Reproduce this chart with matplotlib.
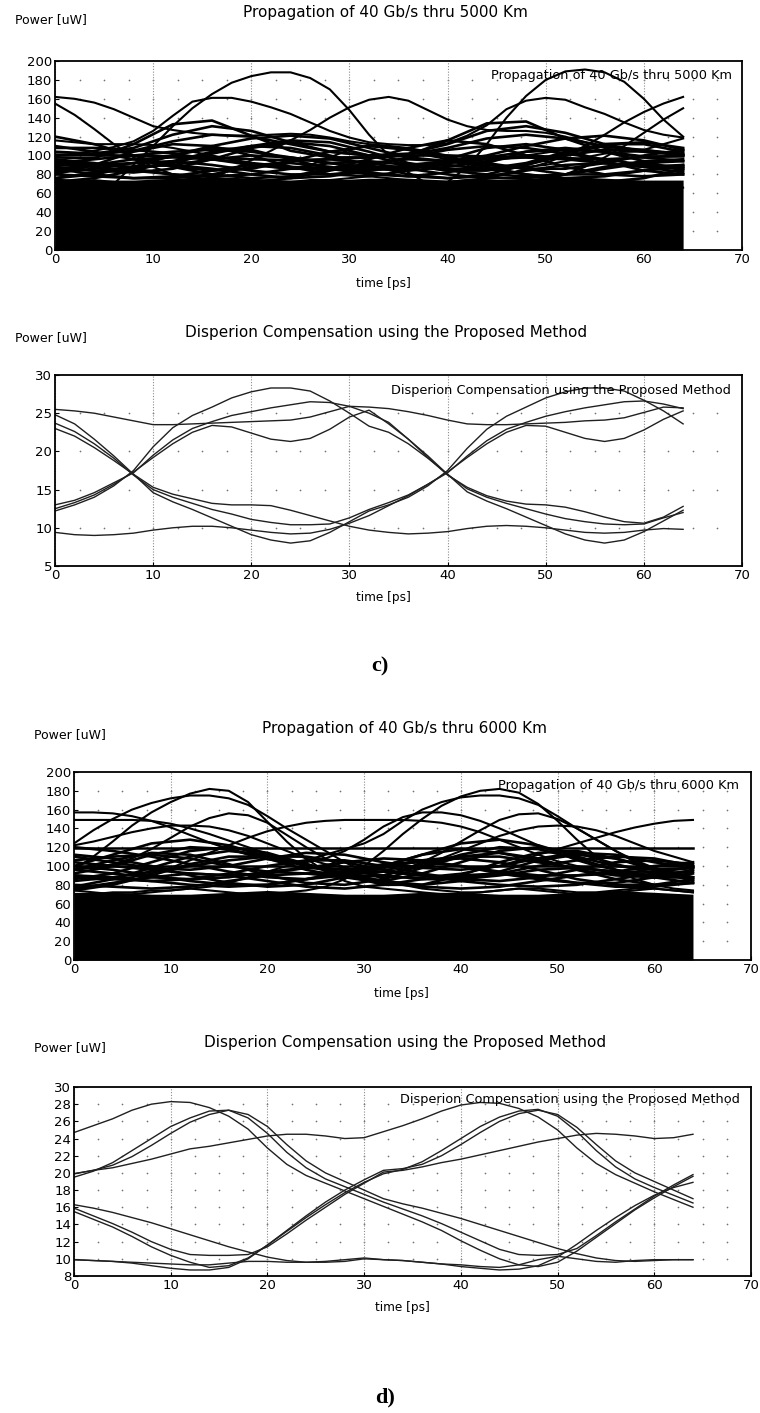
import numpy as np
import matplotlib.pyplot as plt

W, H = 760, 1413

# sampling instants of the read-off traces [ps]
t2 = np.arange(0, 65, 2)   # 33 points
t4 = np.arange(0, 65, 4)   # 17 points

# ---------------- c) top : 40 Gb/s after 5000 km  [uW] ----------------
# top of the solid black mass of overlapping traces
p1_band = [76, 74, 74, 76, 78, 76, 74, 74, 76, 76, 74, 74, 76, 78, 76, 74, 74]

# clearly visible upper traces (t2)
p1_big_a = [60, 58, 60, 70, 90, 110, 131, 150, 165, 177, 184, 188, 188, 182, 170, 148, 122,
            100, 82, 70, 64, 62, 64, 68, 72, 74, 72, 68, 64, 62, 62, 64, 66]
p1_big_b = [66, 64, 62, 62, 64, 66, 68, 70, 72, 70, 68, 66, 64, 62, 62, 64, 66,
            68, 70, 70, 72, 88, 112, 140, 163, 180, 189, 191, 188, 178, 160, 138, 120]
p1_peak33 = [64, 66, 68, 70, 70, 72, 72, 74, 76, 85, 95, 105, 116, 127, 140, 151, 159,
             162, 158, 148, 138, 131, 127, 126, 126, 124, 120, 114, 108, 104, 106, 112, 118]
p1_peak18 = [100, 102, 105, 109, 115, 126, 142, 157, 161, 161, 157, 151, 144, 135, 126, 119, 114,
             112, 111, 111, 113, 121, 132, 149, 158, 161, 159, 151, 144, 135, 127, 122, 119]
p1_long = [162, 160, 156, 149, 140, 131, 127, 124, 122, 121, 121, 122, 123, 122, 119, 115, 112,
           110, 108, 104, 100, 98, 97, 98, 100, 103, 106, 108, 109, 108, 106, 104, 102]
p1_fall0 = [155, 143, 128, 112, 98, 88, 80, 76, 74, 72, 70, 70, 72, 74, 74, 72, 70,
            70, 70, 72, 72, 74, 74, 72, 72, 74, 80, 88, 98, 110, 124, 138, 150]
p1_rise64 = [70, 72, 74, 72, 70, 70, 72, 74, 76, 74, 72, 70, 70, 72, 74, 76, 78,
             76, 74, 72, 72, 74, 76, 80, 86, 92, 100, 110, 122, 135, 146, 155, 162]
p1_flat112 = [116, 114, 112, 112, 112, 111, 108, 104, 100, 96, 92, 88, 86, 90, 98, 106, 111,
              110, 106, 100, 96, 92, 90, 88, 88, 90, 94, 98, 102, 104, 104, 102, 100]
p1_upper = [p1_big_a, p1_big_b, p1_peak33, p1_peak18, p1_long, p1_fall0, p1_rise64, p1_flat112]

# the tangle just above the black mass (t4)
p1_mass = [
    [98, 97, 112, 133, 137, 121, 105, 98, 98, 100, 116, 134, 136, 118, 104, 99, 99],
    [104, 102, 108, 122, 131, 126, 114, 104, 100, 102, 112, 126, 131, 124, 112, 104, 102],
    [100, 101, 105, 115, 122, 120, 112, 104, 100, 101, 108, 118, 122, 118, 110, 104, 101],
    [92, 90, 92, 100, 110, 118, 121, 118, 108, 98, 94, 100, 110, 118, 121, 116, 106],
    [101, 100, 100, 99, 98, 96, 95, 96, 98, 100, 100, 99, 98, 97, 96, 98, 100],
    [120, 112, 100, 88, 80, 76, 78, 86, 96, 108, 116, 112, 100, 88, 80, 78, 80],
    [80, 90, 104, 112, 110, 100, 88, 80, 78, 84, 96, 108, 112, 106, 94, 84, 80],
    [88, 84, 82, 86, 96, 108, 114, 110, 100, 90, 84, 84, 90, 102, 112, 112, 104],
    [96, 92, 86, 80, 74, 72, 76, 84, 92, 96, 94, 88, 80, 74, 72, 76, 86],
    [108, 108, 106, 102, 96, 90, 86, 86, 90, 98, 106, 110, 108, 102, 96, 90, 88],
    [84, 90, 96, 98, 96, 92, 88, 86, 86, 88, 92, 96, 98, 96, 92, 88, 86],
    [92, 96, 100, 104, 106, 104, 98, 92, 88, 88, 92, 98, 104, 106, 104, 98, 94],
    [76, 80, 88, 100, 108, 106, 96, 86, 80, 78, 82, 92, 104, 108, 104, 94, 84],
    [110, 104, 96, 88, 84, 86, 94, 104, 110, 106, 98, 90, 86, 86, 92, 100, 106],
    [86, 84, 86, 92, 102, 110, 116, 114, 104, 92, 86, 86, 92, 104, 112, 114, 108],
    [72, 76, 84, 94, 104, 110, 108, 100, 90, 80, 76, 80, 90, 100, 106, 106, 100],
    [80, 78, 76, 78, 84, 90, 92, 88, 82, 78, 76, 78, 84, 90, 92, 88, 82],
    [90, 88, 84, 80, 78, 80, 86, 92, 94, 90, 84, 80, 78, 80, 86, 92, 94],
    [76, 82, 88, 90, 86, 80, 76, 78, 84, 88, 90, 86, 80, 76, 78, 84, 88],
    [86, 80, 76, 76, 80, 88, 94, 96, 92, 86, 80, 76, 76, 80, 88, 94, 96],
    [82, 86, 92, 94, 90, 84, 80, 80, 84, 90, 94, 92, 86, 80, 80, 84, 90],
    [94, 90, 88, 90, 96, 100, 98, 92, 86, 84, 88, 94, 100, 98, 92, 88, 90],
]

# ---------------- c) bottom : compensated, 5000 km (t2) ----------------
p2_traces = [
    [25.5, 25.3, 25.0, 24.5, 24.0, 23.5, 23.5, 23.6, 23.7, 23.8, 23.9, 24.0, 24.1, 24.5, 25.2, 25.9, 25.8,
     25.6, 25.2, 24.7, 24.1, 23.6, 23.5, 23.5, 23.6, 23.7, 23.8, 24.0, 24.1, 24.4, 25.1, 25.8, 25.7],
    [12.5, 13.3, 14.3, 15.7, 17.3, 19.2, 21.0, 22.5, 23.4, 23.2, 22.4, 21.6, 21.3, 21.7, 22.9, 24.5, 25.4,
     23.6, 21.6, 19.4, 17.0, 14.7, 13.5, 12.5, 11.4, 10.3, 9.2, 8.4, 8.0, 8.4, 9.5, 10.9, 12.3],
    [12.2, 13.0, 14.0, 15.5, 17.5, 20.6, 23.1, 24.7, 25.8, 27.0, 27.8, 28.3, 28.3, 27.9, 26.6, 25.0, 23.3,
     22.5, 21.0, 19.1, 17.0, 15.1, 14.0, 13.2, 12.5, 11.8, 11.2, 10.8, 10.5, 10.4, 10.5, 11.3, 12.0],
    [13.0, 13.6, 14.6, 15.9, 17.2, 19.5, 21.5, 23.0, 23.9, 24.7, 25.2, 25.7, 26.1, 26.5, 26.4, 25.9, 25.0,
     23.8, 21.6, 19.2, 16.9, 15.3, 14.2, 13.5, 13.1, 13.0, 12.7, 12.1, 11.4, 10.8, 10.6, 11.4, 12.8],
    [23.0, 22.0, 20.5, 18.8, 17.0, 15.3, 14.4, 13.8, 13.2, 13.0, 13.0, 12.9, 12.3, 11.6, 10.9, 10.2, 9.7,
     9.4, 9.2, 9.3, 9.5, 9.9, 10.2, 10.3, 10.2, 10.0, 9.7, 9.4, 9.3, 9.4, 9.7, 9.9, 9.8],
    [23.7, 22.6, 21.0, 19.1, 16.9, 15.0, 14.0, 13.2, 12.4, 11.8, 11.1, 10.7, 10.4, 10.4, 10.5, 11.3, 12.4,
     13.3, 14.3, 15.7, 17.3, 19.2, 21.0, 22.5, 23.4, 23.3, 22.5, 21.7, 21.3, 21.7, 22.8, 24.2, 25.3],
    [24.8, 23.6, 21.6, 19.4, 17.0, 14.6, 13.4, 12.4, 11.3, 10.2, 9.1, 8.4, 8.0, 8.3, 9.4, 10.8, 12.2,
     13.0, 14.0, 15.5, 17.5, 20.4, 22.9, 24.6, 25.8, 27.0, 27.8, 28.3, 28.3, 27.9, 26.7, 25.3, 23.6],
    [9.4, 9.1, 9.0, 9.1, 9.3, 9.7, 10.0, 10.2, 10.2, 10.0, 9.7, 9.4, 9.2, 9.3, 9.8, 10.6, 11.6,
     12.9, 14.2, 15.7, 17.2, 19.4, 21.4, 22.9, 23.8, 24.6, 25.2, 25.7, 26.1, 26.5, 26.6, 26.2, 25.6],
]

# ---------------- d) top : 40 Gb/s after 6000 km  [uW] ----------------
p3_band = [72, 72, 70, 70, 72, 74, 72, 70, 70, 72, 72, 70, 70, 72, 74, 72, 70]

p3_pk182a = [96, 110, 126, 143, 157, 168, 177, 182, 180, 168, 147, 126, 108, 94, 84, 78, 76,
             74, 72, 70, 70, 72, 74, 76, 74, 72, 70, 70, 72, 74, 76, 74, 72]
p3_pk182b = [74, 72, 70, 70, 72, 74, 76, 74, 72, 70, 70, 72, 74, 78, 86, 100, 116,
             134, 150, 164, 174, 180, 182, 178, 166, 148, 128, 110, 96, 86, 80, 76, 74]
p3_pk175a = [124, 138, 150, 160, 167, 172, 175, 175, 172, 165, 153, 140, 128, 116, 104, 94, 86,
             80, 76, 74, 72, 72, 74, 76, 76, 74, 72, 72, 74, 76, 76, 74, 72]
p3_pk175b = [70, 70, 72, 72, 74, 74, 76, 78, 82, 88, 94, 100, 106, 112, 118, 124, 134,
             148, 160, 168, 173, 175, 175, 172, 165, 153, 140, 128, 116, 104, 96, 90, 86]
p3_pk155 = [96, 98, 102, 108, 118, 130, 142, 151, 156, 154, 146, 133, 120, 108, 98, 92, 90,
            96, 104, 114, 126, 138, 149, 155, 156, 150, 140, 128, 116, 106, 98, 92, 88]
p3_flat148 = [149, 149, 149, 149, 148, 145, 140, 134, 127, 120, 113, 106, 100, 95, 92, 90, 88,
              88, 88, 90, 92, 96, 100, 106, 112, 118, 124, 130, 136, 141, 145, 148, 149]
p3_rise148 = [88, 86, 86, 88, 92, 98, 106, 114, 122, 130, 137, 142, 146, 148, 149, 149, 149,
              149, 148, 146, 142, 136, 128, 120, 112, 105, 100, 96, 92, 90, 88, 88, 88]
p3_157 = [157, 157, 156, 153, 148, 141, 133, 125, 118, 112, 107, 104, 104, 108, 116, 128, 142,
          152, 157, 157, 154, 148, 140, 131, 122, 114, 106, 100, 96, 92, 90, 88, 88]
p3_142 = [122, 126, 131, 136, 140, 143, 143, 142, 138, 132, 124, 116, 108, 102, 98, 96, 96,
          98, 102, 108, 116, 124, 132, 138, 142, 143, 142, 138, 132, 124, 116, 110, 104]
p3_upper = [p3_pk182a, p3_pk182b, p3_pk175a, p3_pk175b, p3_pk155,
            p3_flat148, p3_rise148, p3_157, p3_142]

# the two straight levels (t4)
p3_flat118 = [119, 119, 119, 119, 119, 119, 119, 119, 119, 119, 119, 119, 119, 119, 119, 119, 119]
p3_flat100 = [100, 100, 100, 100, 100, 100, 100, 100, 100, 100, 100, 100, 100, 100, 100, 100, 100]

p3_mass = [
    [100, 112, 124, 128, 122, 110, 100, 96, 100, 112, 124, 128, 122, 110, 100, 96, 98],
    [92, 100, 112, 120, 118, 108, 96, 88, 90, 100, 112, 120, 118, 108, 96, 88, 88],
    [110, 104, 98, 96, 100, 108, 114, 112, 104, 98, 96, 100, 108, 114, 112, 104, 98],
    [86, 92, 104, 116, 120, 114, 102, 90, 84, 92, 104, 116, 120, 114, 102, 92, 86],
    [120, 116, 110, 102, 94, 88, 86, 90, 100, 112, 118, 114, 106, 96, 90, 88, 92],
    [78, 86, 98, 110, 116, 112, 102, 90, 80, 80, 90, 104, 114, 116, 108, 96, 84],
    [104, 100, 96, 92, 90, 92, 98, 104, 108, 106, 100, 94, 90, 90, 94, 100, 104],
    [96, 106, 114, 112, 102, 90, 82, 80, 86, 98, 110, 114, 108, 96, 86, 80, 82],
    [112, 108, 100, 90, 82, 78, 80, 88, 98, 106, 108, 104, 96, 86, 80, 80, 86],
    [84, 88, 94, 100, 106, 110, 110, 104, 96, 90, 88, 92, 100, 106, 110, 108, 100],
    [90, 86, 84, 86, 92, 100, 106, 106, 100, 92, 86, 84, 88, 96, 104, 106, 102],
    [74, 80, 90, 102, 110, 110, 102, 92, 84, 80, 84, 94, 106, 112, 108, 98, 88],
    [106, 110, 112, 108, 100, 94, 92, 94, 100, 106, 110, 110, 104, 98, 94, 94, 98],
    [100, 96, 90, 84, 80, 80, 86, 94, 102, 104, 100, 92, 86, 82, 82, 88, 96],
    [80, 78, 76, 78, 84, 90, 92, 88, 82, 78, 76, 78, 84, 90, 92, 88, 82],
    [90, 88, 84, 80, 78, 80, 86, 92, 94, 90, 84, 80, 78, 80, 86, 92, 94],
    [76, 82, 88, 92, 90, 84, 78, 76, 80, 86, 90, 92, 88, 82, 78, 78, 82],
    [96, 92, 88, 86, 88, 94, 98, 96, 90, 86, 86, 90, 96, 98, 94, 90, 88],
]

# ---------------- d) bottom : compensated, 6000 km (t2) ----------------
p4_traces = [
    [19.9, 20.3, 20.6, 21.1, 21.6, 22.2, 22.8, 23.1, 23.5, 23.9, 24.3, 24.5, 24.5, 24.3, 24.0, 24.1, 24.8,
     25.5, 26.3, 27.2, 27.9, 28.2, 28.1, 27.5, 26.5, 25.0, 22.9, 21.1, 19.8, 18.8, 17.8, 16.9, 16.0],
    [24.7, 25.5, 26.3, 27.3, 28.0, 28.3, 28.2, 27.6, 26.6, 25.1, 22.9, 21.0, 19.7, 18.8, 17.9, 17.0, 16.1,
     15.2, 14.3, 13.3, 12.1, 11.0, 10.0, 9.3, 9.1, 9.6, 10.9, 12.5, 14.1, 15.7, 17.1, 18.4, 19.6],
    [19.5, 20.2, 21.2, 22.6, 24.0, 25.4, 26.4, 27.2, 27.3, 26.4, 24.6, 22.4, 20.6, 19.3, 18.4, 17.5, 16.6,
     15.8, 15.0, 14.1, 13.1, 12.1, 11.1, 10.5, 10.4, 10.5, 11.2, 12.7, 14.3, 15.8, 17.3, 18.6, 19.8],
    [19.9, 20.3, 20.9, 21.9, 23.2, 24.6, 25.9, 26.8, 27.3, 26.8, 25.4, 23.3, 21.4, 20.0, 19.0, 18.0, 17.0,
     16.4, 15.9, 15.3, 14.7, 14.0, 13.3, 12.6, 11.9, 11.2, 10.6, 10.1, 9.8, 9.7, 9.8, 9.9, 9.9],
    [15.5, 14.6, 13.7, 12.6, 11.4, 10.4, 9.6, 9.0, 9.2, 10.1, 11.6, 13.2, 14.8, 16.3, 17.7, 18.9, 19.9,
     20.4, 21.3, 22.6, 24.0, 25.4, 26.5, 27.2, 27.4, 26.6, 24.8, 22.6, 20.7, 19.3, 18.3, 17.4, 16.5],
    [15.9, 15.0, 14.1, 13.1, 12.0, 11.1, 10.5, 10.4, 10.4, 10.5, 11.4, 12.9, 14.5, 16.0, 17.5, 18.8, 20.1,
     20.3, 20.7, 21.2, 21.6, 22.1, 22.6, 23.1, 23.6, 24.0, 24.4, 24.6, 24.5, 24.3, 24.0, 24.1, 24.5],
    [9.9, 9.8, 9.7, 9.5, 9.2, 8.9, 8.7, 8.7, 9.0, 10.0, 11.6, 13.3, 15.0, 16.6, 18.0, 19.2, 20.3,
     20.5, 21.0, 22.0, 23.3, 24.7, 26.0, 26.9, 27.3, 26.8, 25.3, 23.3, 21.4, 20.0, 19.0, 18.0, 17.0],
    [16.3, 15.9, 15.4, 14.8, 14.2, 13.5, 12.8, 12.1, 11.4, 10.8, 10.2, 9.8, 9.6, 9.6, 9.7, 10.0, 9.9,
     9.8, 9.6, 9.4, 9.1, 8.9, 8.7, 8.8, 9.2, 10.2, 11.7, 13.3, 14.8, 16.2, 17.4, 18.3, 18.9],
    [9.9, 9.8, 9.7, 9.6, 9.5, 9.4, 9.3, 9.3, 9.5, 9.7, 9.7, 9.6, 9.6, 9.7, 9.9, 10.1, 9.9,
     9.8, 9.6, 9.4, 9.3, 9.1, 9.0, 9.3, 9.9, 10.3, 10.0, 9.7, 9.6, 9.8, 9.9, 9.9, 9.9],
]

title_prop5 = 'Propagation of 40 Gb/s thru 5000 Km'
title_prop6 = 'Propagation of 40 Gb/s thru 6000 Km'
title_comp = 'Disperion Compensation using the Proposed Method'

fig = plt.figure(figsize=(W / 100, H / 100), dpi=100)


def panel(x0, x1, y0, y1, ylim, yticks):
    # axes placed in pixel coords of the page
    ax = fig.add_axes([x0 / W, 1 - y1 / H, (x1 - x0) / W, (y1 - y0) / H])
    ax.set_xlim(0, 70)
    ax.set_ylim(*ylim)
    ax.set_xticks(np.arange(0, 71, 10))
    ax.set_yticks(yticks)
    ax.tick_params(direction='in', length=3, width=0.8, labelsize=9.5, pad=2)
    ax.xaxis.grid(True, color='0.55', lw=0.8, ls=(0, (1, 1.5)))
    ax.set_axisbelow(True)
    gx, gy = np.meshgrid(np.arange(2.5, 70, 2.5), yticks[1:-1])
    ax.scatter(gx.ravel(), gy.ravel(), s=1.5, c='0.45', lw=0, zorder=0)
    for sp in ax.spines.values():
        sp.set_linewidth(1.3)
    return ax


def ftext(x, y, s, **kw):
    fig.text(x / W, 1 - y / H, s, va='center', **kw)


# c) top
ax1 = panel(55, 742, 61, 250, (0, 200), np.arange(0, 201, 20))
ax1.fill_between(t4, 0, p1_band, color='black', lw=0)
for tr in p1_mass:
    ax1.plot(t4, tr, color='black', lw=1.9)
for tr in p1_upper:
    ax1.plot(t2, tr, color='black', lw=1.5)
ax1.text(69, 185, title_prop5, ha='right', va='center', fontsize=9.3)
ftext(15, 20, 'Power [uW]', ha='left', fontsize=9)
ftext(385, 12, title_prop5, ha='center', fontsize=11)
ftext(383, 283, 'time [ps]', ha='center', fontsize=8.7)

# c) bottom
ax2 = panel(55, 742, 375, 566, (5, 30), np.arange(5, 31, 5))
for tr in p2_traces:
    ax2.plot(t2, tr, color='#202020', lw=1.0)
ax2.text(68.9, 28.0, title_comp, ha='right', va='center', fontsize=9.3)
ftext(15, 338, 'Power [uW]', ha='left', fontsize=9)
ftext(386, 333, title_comp, ha='center', fontsize=11)
ftext(383, 597, 'time [ps]', ha='center', fontsize=8.7)

ftext(380, 666, 'c)', ha='center', fontsize=16, fontweight='bold',
      family=['Liberation Serif', 'DejaVu Serif'])

# d) top
ax3 = panel(74, 751, 772, 960, (0, 200), np.arange(0, 201, 20))
ax3.fill_between(t4, 0, p3_band, color='black', lw=0)
for tr in p3_mass:
    ax3.plot(t4, tr, color='black', lw=1.9)
ax3.plot(t4, p3_flat118, color='black', lw=1.8)
ax3.plot(t4, p3_flat100, color='black', lw=1.8)
for tr in p3_upper:
    ax3.plot(t2, tr, color='black', lw=1.5)
ax3.text(68.8, 186, title_prop6, ha='right', va='center', fontsize=9.3)
ftext(34, 735, 'Power [uW]', ha='left', fontsize=9)
ftext(404, 728, title_prop6, ha='center', fontsize=11)
ftext(401, 993, 'time [ps]', ha='center', fontsize=8.7)

# d) bottom
ax4 = panel(74, 751, 1087, 1276, (8, 30), np.arange(8, 31, 2))
for tr in p4_traces:
    ax4.plot(t2, tr, color='#202020', lw=1.0)
ax4.text(68.8, 28.5, title_comp, ha='right', va='center', fontsize=9.3)
ftext(34, 1048, 'Power [uW]', ha='left', fontsize=9)
ftext(405, 1043, title_comp, ha='center', fontsize=11)
ftext(402, 1307, 'time [ps]', ha='center', fontsize=8.7)

ftext(385, 1397, 'd)', ha='center', fontsize=16, fontweight='bold',
      family=['Liberation Serif', 'DejaVu Serif'])

fig.savefig('out.png', dpi=100)
